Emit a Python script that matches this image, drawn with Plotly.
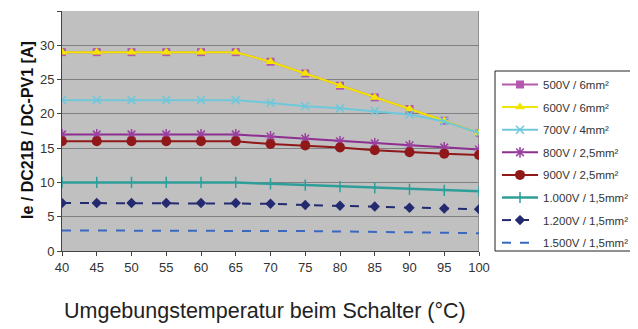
import plotly.graph_objects as go

temps = [40, 45, 50, 55, 60, 65, 70, 75, 80, 85, 90, 95, 100]
s500 = [29, 29, 29, 29, 29, 29, 27.6, 25.9, 24.1, 22.4, 20.7, 19.0, 17.2]
s600 = [29, 29, 29, 29, 29, 29, 27.6, 25.9, 24.1, 22.4, 20.7, 19.0, 17.2]
s700 = [22, 22, 22, 22, 22, 22, 21.6, 21.1, 20.8, 20.4, 19.9, 18.9, 17.2]
s800 = [17, 17, 17, 17, 17, 17, 16.7, 16.4, 16.0, 15.7, 15.4, 15.1, 14.8]
s900 = [16, 16, 16, 16, 16, 16, 15.6, 15.4, 15.1, 14.7, 14.4, 14.2, 14.0]
s1000 = [10, 10, 10, 10, 10, 10, 9.8, 9.6, 9.4, 9.2, 9.0, 8.85, 8.7]
s1200 = [7, 7, 7, 7, 7, 7, 6.9, 6.7, 6.6, 6.5, 6.3, 6.2, 6.1]
s1500 = [3, 3, 3, 3, 3, 3, 2.95, 2.9, 2.85, 2.8, 2.7, 2.65, 2.6]

names = ["500V / 6mm²", "600V / 6mm²", "700V / 4mm²", "800V / 2,5mm²",
         "900V / 2,5mm²", "1.000V / 1,5mm²", "1.200V / 1,5mm²", "1.500V / 1,5mm²"]
y_ticks = [0, 5, 10, 15, 20, 25, 30, 35]
x_title = "Umgebungstemperatur beim Schalter (°C)"
y_title = "<b>Ie / DC21B / DC-PV1 [A]</b>"

FONT = "Liberation Sans, Arial, sans-serif"

# page body margin (default 8px) -> figure drawn at (OFF, OFF)
OFF = 8
W, H = 638 - OFF, 329 - OFF
# plot area in window pixels
L, R, T, B = 62, 479, 11, 251
PW, PH = R - L, B - T

def px_x(p):
    return (p - L) / PW

def px_y(p):
    return (B - p) / PH

fig = go.Figure()

def add(y, name, color, symbol, size, dash="solid", width=2, mline=None, mode="lines+markers"):
    marker = dict(symbol=symbol, size=size, color=color)
    if mline:
        marker["line"] = dict(color=mline, width=1.5)
    fig.add_trace(go.Scatter(x=temps, y=y, name=name, mode=mode, legendgroup=name,
                             line=dict(color=color, width=width, dash=dash),
                             marker=marker))

add(s500, names[0], "#B45AAE", "square", 8)
add(s600, names[1], "#F2E600", "triangle-up", 9)
add(s700, names[2], "#6EC8DC", "x-thin", 8, mline="#6EC8DC")
add(s800, names[3], "#8E2E90", "asterisk", 9, mline="#9A40A0")
add(s900, names[4], "#901818", "circle", 10)
add(s1000, names[5], "#2E9E9A", "line-ns", 8, width=2.5, mline="#2E9E9A")
add(s1200, names[6], "#232A70", "diamond", 8, dash="dash")
add(s1500, names[7], "#3A68C0", "circle", 1, dash="dash", mode="lines")

fig.update_layout(
    width=W, height=H,
    margin=dict(l=L - OFF, r=638 - R, t=T - OFF, b=329 - B),
    paper_bgcolor="white",
    plot_bgcolor="#C0C0C0",
    font=dict(family=FONT, size=13, color="#333333"),
    showlegend=True,
    legend=dict(
        x=px_x(497), y=px_y(70), xanchor="left", yanchor="top",
        bgcolor="rgba(0,0,0,0)", borderwidth=0,
        font=dict(family=FONT, size=11.5, color="#333333"),
        tracegroupgap=3.6, itemwidth=36,
    ),
    xaxis=dict(
        range=[40, 100], tickmode="array", tickvals=temps,
        ticks="outside", ticklen=4, tickcolor="#444444",
        showgrid=False, zeroline=False, automargin=False,
        showline=True, linecolor="#444444", linewidth=1,
        tickfont=dict(family=FONT, size=13, color="#333333"),
    ),
    yaxis=dict(
        range=[0, 35], tickmode="array", tickvals=y_ticks,
        ticks="outside", ticklen=4, tickcolor="#444444",
        showgrid=True, gridcolor="#808080", gridwidth=1,
        zeroline=False, automargin=False,
        showline=True, linecolor="#444444", linewidth=1,
        tickfont=dict(family=FONT, size=13, color="#333333"),
    ),
)

fig.add_shape(type="line", xref="x", yref="paper", x0=100, x1=100, y0=0, y1=1,
              line=dict(color="#909090", width=2), layer="below")
# legend frame
fig.add_shape(type="rect", xref="paper", yref="paper",
              x0=px_x(495), x1=px_x(637), y0=px_y(251), y1=px_y(71),
              line=dict(color="#222222", width=1), fillcolor="rgba(0,0,0,0)")

fig.add_annotation(text=x_title, xref="paper", yref="paper",
                   x=px_x(265), y=px_y(311), xanchor="center", yanchor="middle",
                   showarrow=False, font=dict(family=FONT, size=21.5, color="#222222"))
fig.add_annotation(text=y_title, xref="paper", yref="paper", textangle=-90,
                   x=px_x(27), y=px_y(130), xanchor="center", yanchor="middle",
                   showarrow=False, font=dict(family=FONT, size=16, color="#111111"))

fig.write_html("out.html")
